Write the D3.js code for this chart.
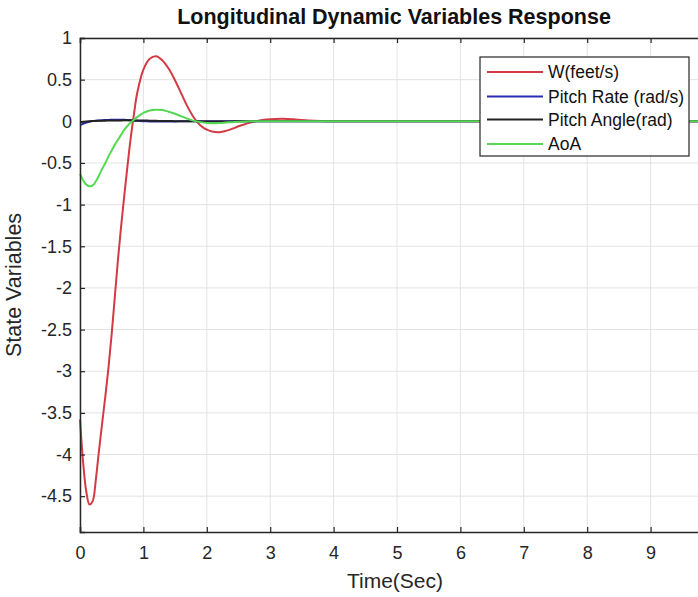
<!DOCTYPE html>
<html>
<head>
<meta charset="utf-8">
<script src="https://cdn.jsdelivr.net/npm/d3@7"></script>
<style>
  body { margin: 0; background: #fff; }
  svg { display: block; overflow: hidden; font-family: "Liberation Sans", Arial, sans-serif; }
</style>
</head>
<body>
<script>
// time samples (s)
const time = [0, 0.05, 0.1, 0.15, 0.2, 0.25, 0.3, 0.35, 0.4, 0.45, 0.5, 0.55, 0.6, 0.65, 0.7, 0.75, 0.8, 0.85, 0.9,
    1.0, 1.1, 1.2, 1.3, 1.4, 1.5, 1.6, 1.7, 1.8, 1.9, 2.0, 2.1, 2.2, 2.3, 2.4, 2.5, 2.6, 2.7, 2.8, 2.9, 3.0,
    3.2, 3.4, 3.6, 3.8, 4.0, 5, 6, 7, 8, 9, 10];

// W (feet/s)
const wVals = [-3.58, -4.1, -4.45, -4.6, -4.56, -4.3, -3.95, -3.62, -3.3, -2.95, -2.55, -2.1, -1.65, -1.25, -0.88, -0.53, -0.2, 0.08, 0.33,
    0.62, 0.75, 0.78, 0.73, 0.63, 0.49, 0.33, 0.17, 0.04, -0.05, -0.1, -0.125, -0.13, -0.115, -0.09, -0.06, -0.035, -0.012, 0.005, 0.018, 0.025,
    0.03, 0.022, 0.01, 0.003, 0, 0, 0, 0, 0, 0, 0];

// Pitch Rate (rad/s)
const qVals = [-0.045, -0.03, -0.015, -0.005, 0.003, 0.007, 0.01, 0.013, 0.015, 0.017, 0.018, 0.019, 0.02, 0.019, 0.018, 0.015, 0.012, 0.009, 0.006,
    0.002, -0.001, -0.003, -0.003, -0.002, -0.001, 0, 0, 0, 0, 0, 0, 0, 0, 0, 0, 0, 0, 0, 0, 0,
    0, 0, 0, 0, 0, 0, 0, 0, 0, 0, 0];

// Pitch Angle (rad)
const thetaVals = [-0.01, -0.006, -0.002, 0.001, 0.003, 0.005, 0.006, 0.007, 0.008, 0.009, 0.01, 0.01, 0.011, 0.011, 0.012, 0.012, 0.012, 0.011, 0.011,
    0.01, 0.008, 0.006, 0.004, 0.003, 0.002, 0.001, 0, 0, -0.001, -0.002, -0.002, -0.002, -0.001, -0.001, 0, 0, 0, 0, 0, 0,
    0, 0, 0, 0, 0, 0, 0, 0, 0, 0, 0];

// AoA
const aoaVals = [-0.63, -0.71, -0.76, -0.78, -0.77, -0.72, -0.65, -0.57, -0.5, -0.42, -0.35, -0.28, -0.22, -0.16, -0.1, -0.055, -0.015, 0.02, 0.05,
    0.1, 0.13, 0.14, 0.135, 0.115, 0.09, 0.06, 0.03, 0.005, -0.01, -0.02, -0.022, -0.02, -0.015, -0.01, -0.005, -0.002, 0, 0, 0, 0,
    0, 0, 0, 0, 0, 0, 0, 0, 0, 0, 0];

const seriesNames = ["W(feet/s)", "Pitch Rate (rad/s)", "Pitch Angle(rad)", "AoA"];
const seriesColors = ["#d23a44", "#2a2ab4", "#222222", "#55d955"];
const seriesValues = [wVals, qVals, thetaVals, aoaVals];

// axis runs to 10 but the picture is cut just before it
const xTicks = [0, 1, 2, 3, 4, 5, 6, 7, 8, 9, 10];
const xTickLabels = [0, 1, 2, 3, 4, 5, 6, 7, 8, 9];
const yTicks = [1, 0.5, 0, -0.5, -1, -1.5, -2, -2.5, -3, -3.5, -4, -4.5];

const width = 698;
const height = 597;
const margin = { top: 38, right: -16, bottom: 65, left: 80 };

const svg = d3.select("body")
    .append("svg")
    .attr("width", width)
    .attr("height", height);

const x = d3.scaleLinear()
    .domain([0, 10])
    .range([margin.left, width - margin.right]);

const y = d3.scaleLinear()
    .domain([-4.93, 1])
    .range([height - margin.bottom, margin.top]);

// grid
svg.append("g")
    .selectAll("line")
    .data(xTicks)
    .enter()
    .append("line")
    .attr("x1", d => x(d)).attr("x2", d => x(d))
    .attr("y1", y.range()[1]).attr("y2", y.range()[0])
    .style("stroke", "#e3e3e3")
    .style("stroke-width", 1);

svg.append("g")
    .selectAll("line")
    .data(yTicks)
    .enter()
    .append("line")
    .attr("x1", x.range()[0]).attr("x2", x.range()[1])
    .attr("y1", d => y(d)).attr("y2", d => y(d))
    .style("stroke", "#e3e3e3")
    .style("stroke-width", 1);

// curves
const line = d3.line()
    .x(d => x(d[0]))
    .y(d => y(d[1]))
    .curve(d3.curveCatmullRom.alpha(0.5));

seriesValues.forEach((vals, i) => {
    svg.append("path")
        .datum(time.map((t, j) => [t, vals[j]]))
        .attr("d", line)
        .style("fill", "none")
        .style("stroke", seriesColors[i])
        .style("stroke-width", 2);
});

// axes (ticks inside, box on)
const xAxisBottom = svg.append("g")
    .attr("transform", "translate(0," + y.range()[0] + ")")
    .call(d3.axisBottom(x).tickValues(xTicks).tickSize(-5).tickPadding(14)
        .tickFormat(d => xTickLabels.includes(d) ? String(d) : ""));

const xAxisTop = svg.append("g")
    .attr("transform", "translate(0," + y.range()[1] + ")")
    .call(d3.axisTop(x).tickValues(xTicks).tickSize(-5).tickFormat(""));

const yAxis = svg.append("g")
    .attr("transform", "translate(" + x.range()[0] + ",0)")
    .call(d3.axisLeft(y).tickValues(yTicks).tickSize(-5).tickPadding(8).tickFormat(d => String(d)));

[xAxisBottom, xAxisTop, yAxis].forEach(g => {
    g.select(".domain").style("stroke", "#262626").style("stroke-width", 1.5);
    g.selectAll(".tick line").style("stroke", "#262626").style("stroke-width", 1.2);
    g.selectAll(".tick text")
        .style("font-family", "'Liberation Sans', Arial, sans-serif")
        .style("font-size", "18px")
        .style("fill", "#262626");
});

// title
svg.append("text")
    .attr("x", 394)
    .attr("y", 24)
    .attr("text-anchor", "middle")
    .style("font-size", "21.5px")
    .style("font-weight", "bold")
    .style("fill", "#111")
    .text("Longitudinal Dynamic Variables Response");

// x label
svg.append("text")
    .attr("x", 395)
    .attr("y", 588)
    .attr("text-anchor", "middle")
    .style("font-size", "21px")
    .style("fill", "#262626")
    .text("Time(Sec)");

// y label
svg.append("text")
    .attr("transform", "translate(21," + ((y.range()[0] + y.range()[1]) / 2) + ") rotate(-90)")
    .attr("text-anchor", "middle")
    .style("font-size", "21.5px")
    .style("fill", "#262626")
    .text("State Variables");

// legend
const legend = svg.append("g");
legend.append("rect")
    .attr("x", 480).attr("y", 57)
    .attr("width", 209).attr("height", 99)
    .style("fill", "#fff")
    .style("stroke", "#262626")
    .style("stroke-width", 1.2);

const legendRows = [72, 96.5, 119.5, 144];
seriesNames.forEach((name, i) => {
    legend.append("line")
        .attr("x1", 487).attr("x2", 543)
        .attr("y1", legendRows[i]).attr("y2", legendRows[i])
        .style("stroke", seriesColors[i])
        .style("stroke-width", 2);
    legend.append("text")
        .attr("x", 548)
        .attr("y", legendRows[i])
        .attr("dy", "0.36em")
        .style("font-size", "17.5px")
        .style("fill", "#111")
        .text(name);
});
</script>
</body>
</html>
